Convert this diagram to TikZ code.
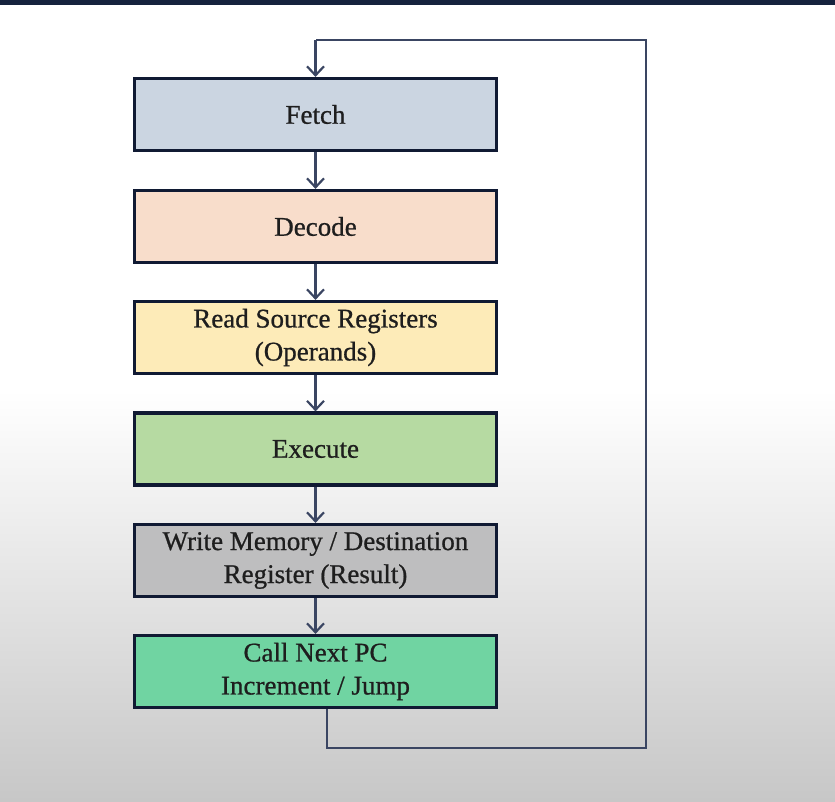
\documentclass[tikz,border=0pt]{standalone}
\usepackage{fontspec}
\setmainfont{Liberation Serif}[FakeBold=0.8]
\usetikzlibrary{arrows.meta,calc}
\definecolor{edgecol}{HTML}{101A33}
\definecolor{linecol}{HTML}{3A4562}
\definecolor{txtcol}{HTML}{1E1E1E}
\definecolor{fetchc}{HTML}{CBD5E1}
\definecolor{decodec}{HTML}{F8DDCB}
\definecolor{readc}{HTML}{FDEBB8}
\definecolor{execc}{HTML}{B6DAA2}
\definecolor{writec}{HTML}{BEBEBF}
\definecolor{callc}{HTML}{70D4A2}
\definecolor{barc}{HTML}{15223D}
\tikzset{
  x=1pt, y=1pt,
  stagebox/.style={draw=edgecol, line width=3.2pt, rectangle, minimum width=362pt,
    minimum height=72pt, inner sep=0pt, align=center, text=txtcol,
    font=\fontsize{27}{33}\selectfont},
  flow/.style={draw=linecol, line width=2.4pt, -{Straight Barb[length=9pt,width=17pt,line width=2.2pt]}},
  loopline/.style={draw=linecol, line width=2.4pt}
}
\begin{document}
\begin{tikzpicture}
\useasboundingbox (0,0) rectangle (835,-802);
\fill[white] (0,0) rectangle (835,-390);
\shade[top color=white, bottom color=black!22] (0,-390) rectangle (835,-802);
\fill[barc] (0,0) rectangle (835,-5);

\node[stagebox, fill=fetchc] (fetch) at (315.5,-114.5) {Fetch};
\node[stagebox, fill=decodec] (decode) at (315.5,-226.5) {Decode};
\node[stagebox, fill=readc] (read) at (315.5,-337.5) {Read Source Registers\\(Operands)};
\node[stagebox, fill=execc] (exec) at (315.5,-449) {Execute};
\node[stagebox, fill=writec] (write) at (315.5,-560.5) {Write Memory / Destination\\Register (Result)};
\node[stagebox, fill=callc] (call) at (315.5,-671.5) {Call Next PC\\Increment / Jump};

\draw[flow] (fetch) -- (decode);
\draw[flow] (decode) -- (read);
\draw[flow] (read) -- (exec);
\draw[flow] (exec) -- (write);
\draw[flow] (write) -- (call);

\coordinate (out) at ($(call.south)+(11.5,0)$);
\coordinate (c1) at (327,-748);
\coordinate (c2) at (646,-748);
\coordinate (c3) at (646,-40);
\coordinate (c4) at (315.5,-40);
\draw[loopline] (out) -- (c1) -- (c2) -- (c3) -- (c4);
\draw[flow] (c4) -- (fetch.north);
\end{tikzpicture}
\end{document}
